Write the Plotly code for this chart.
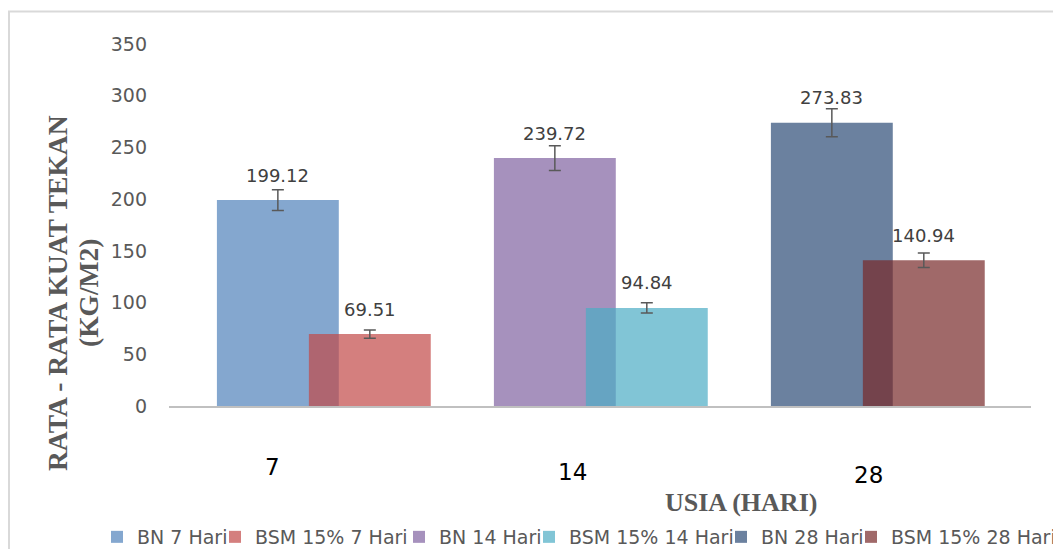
import plotly.graph_objects as go

# ---- data ----
categories = ["7", "14", "28"]
bn_names = ["BN 7 Hari", "BN 14 Hari", "BN 28 Hari"]
bsm_names = ["BSM 15% 7 Hari", "BSM 15% 14 Hari", "BSM 15% 28 Hari"]
bn_values = [199.12, 239.72, 273.83]
bsm_values = [69.51, 94.84, 140.94]
bn_errors = [10, 12, 13.5]
bsm_errors = [4, 5, 7]
y_ticks = [0, 50, 100, 150, 200, 250, 300, 350]

# ---- style ----
bn_colors = ["rgba(80,129,187,0.7)", "rgba(128,99,161,0.7)", "rgba(44,75,118,0.7)"]
bsm_colors = ["rgba(194,72,71,0.7)", "rgba(76,172,196,0.7)", "rgba(119,42,41,0.7)"]
BAR_W = 0.44
BN_OFF = -0.385
BSM_OFF = -0.053
SANS = "DejaVu Sans"
SERIF = "Liberation Serif"
PAGE_OFF = 8          # default body margin of the html page
W, H = 1053, 541
L, R, T, B = 161, 30, 36, 143
PW, PH = W - L - R, H - T - B


def px_x(p):
    """window pixel x -> paper fraction"""
    return (p - PAGE_OFF - L) / PW


def px_y(p):
    """window pixel y -> paper fraction"""
    return (H - B - (p - PAGE_OFF)) / PH


err_style = dict(type="data", color="#595959", thickness=1.5, width=6, visible=True)

# legend entries: order and window x of each entry's text start
legend_order = [bn_names[0], bsm_names[0], bn_names[1], bsm_names[1], bn_names[2], bsm_names[2]]
legend_text_x = [135, 253, 437, 567, 759, 889]
LEG_TEXT_GAP = 38
legend_ids = ["legend"] + [f"legend{k}" for k in range(2, 7)]

fig = go.Figure()
for i in range(3):
    for name, val, err, col, off in (
        (bn_names[i], bn_values[i], bn_errors[i], bn_colors[i], BN_OFF),
        (bsm_names[i], bsm_values[i], bsm_errors[i], bsm_colors[i], BSM_OFF),
    ):
        fig.add_trace(go.Bar(
            x=[i], y=[val], name=name, width=BAR_W, offset=off,
            marker=dict(color=col, line=dict(width=0)),
            error_y=dict(array=[err], **err_style),
            legend=legend_ids[legend_order.index(name)],
        ))

annotations = []
# data labels
for i in range(3):
    for val, off in ((bn_values[i], BN_OFF), (bsm_values[i], BSM_OFF)):
        annotations.append(dict(
            x=i + off + BAR_W / 2, y=val, xref="x", yref="y",
            text=f"{val:.2f}", showarrow=False, yshift=25, yanchor="middle",
            font=dict(family=SANS, size=18, color="#404040"),
        ))

# category labels (staggered as in the reference)
cat_dx = [-0.183, -0.100, -0.031]
cat_py = [467, 472, 475]
for i, c in enumerate(categories):
    annotations.append(dict(
        x=i + cat_dx[i], y=px_y(cat_py[i]), xref="x", yref="paper",
        text=c, showarrow=False, xanchor="center", yanchor="middle",
        font=dict(family=SANS, size=23, color="#000000"),
    ))

# axis titles
annotations.append(dict(
    x=px_x(741), y=px_y(502), xref="paper", yref="paper",
    text="<b>USIA (HARI)</b>", showarrow=False, xanchor="center", yanchor="middle",
    font=dict(family=SERIF, size=26, color="#595959"),
))
ytitle_font = dict(family=SERIF, size=27.5, color="#595959")
annotations.append(dict(
    x=px_x(57), y=px_y(293), xref="paper", yref="paper",
    text="<b>RATA - RATA KUAT TEKAN</b>", showarrow=False, textangle=-90,
    xanchor="center", yanchor="middle", font=ytitle_font,
))
annotations.append(dict(
    x=px_x(88), y=px_y(293), xref="paper", yref="paper",
    text="<b>(KG/M2)</b>", showarrow=False, textangle=-90,
    xanchor="center", yanchor="middle", font=ytitle_font,
))

legend_layout = {}
for lid, tx in zip(legend_ids, legend_text_x):
    legend_layout[lid] = dict(
        orientation="h", x=px_x(tx - LEG_TEXT_GAP), y=px_y(537),
        xanchor="left", yanchor="middle", bgcolor="rgba(0,0,0,0)",
        font=dict(family=SANS, size=19, color="#595959"),
    )

fig.update_layout(
    width=W, height=H,
    margin=dict(l=L, r=R, t=T, b=B, autoexpand=False),
    paper_bgcolor="white", plot_bgcolor="white",
    barmode="overlay",
    showlegend=True,
    xaxis=dict(
        range=[-0.558, 2.554], showgrid=False, zeroline=False,
        showticklabels=False, ticks="", showline=True, linecolor="#c0c0c0",
        linewidth=2, fixedrange=True,
    ),
    yaxis=dict(
        range=[0, 350], tickvals=y_ticks, showgrid=False, zeroline=False,
        showline=False, ticks="", ticklabelstandoff=21,
        tickfont=dict(family=SANS, size=19, color="#595959"),
    ),
    annotations=annotations,
    shapes=[dict(
        type="rect", xref="paper", yref="paper",
        x0=px_x(9), x1=px_x(1090), y0=px_y(11.5), y1=px_y(600),
        line=dict(color="#d9d9d9", width=2), fillcolor="rgba(0,0,0,0)", layer="below",
    )],
    **legend_layout,
)

fig.write_html("out.html")
